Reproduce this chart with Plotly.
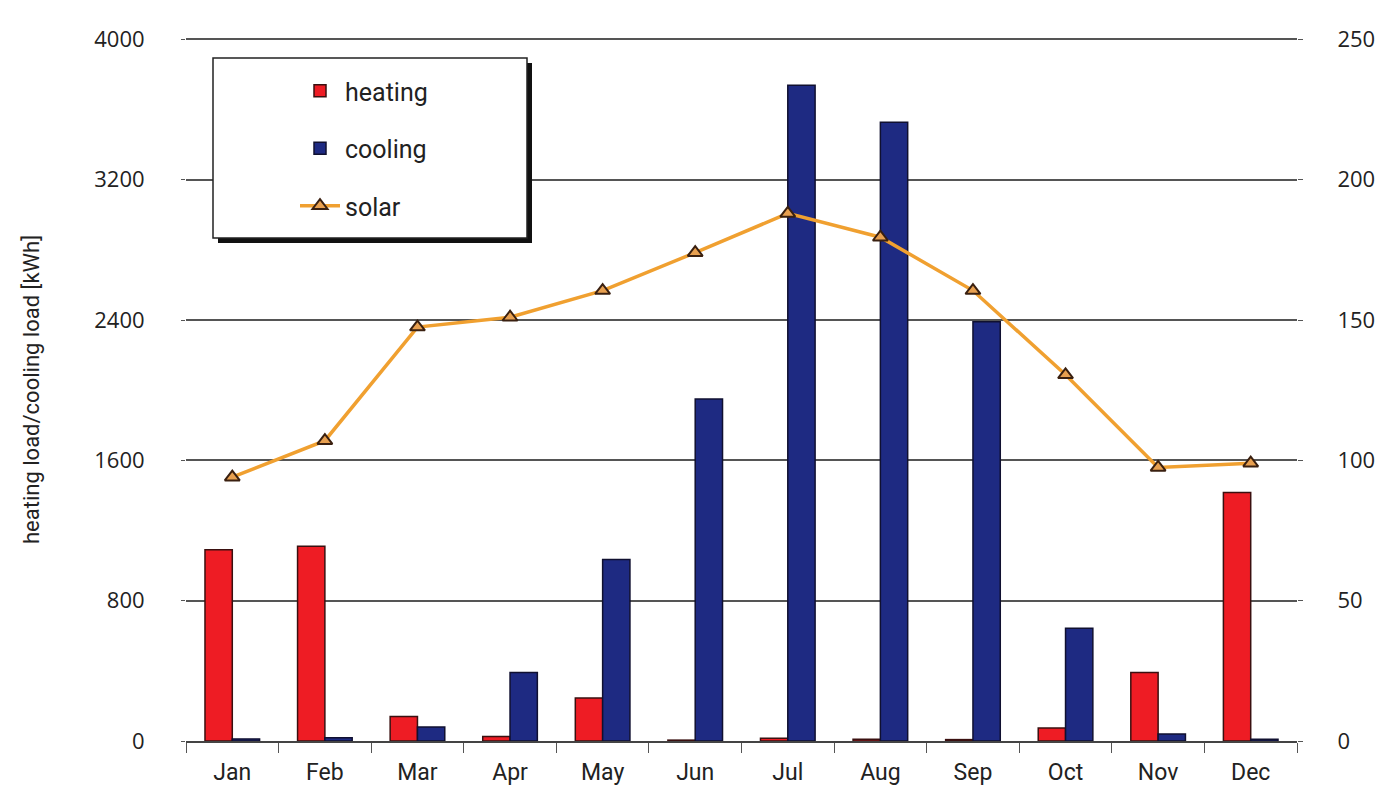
import plotly.graph_objects as go

months = ["Jan", "Feb", "Mar", "Apr", "May", "Jun", "Jul", "Aug", "Sep", "Oct", "Nov", "Dec"]
heating = [1090, 1110, 140, 25, 245, 5, 15, 10, 8, 74, 390, 1417]
cooling = [12, 18, 80, 390, 1035, 1950, 3738, 3528, 2390, 643, 40, 10]
solar = [94, 107, 147.5, 151, 160.5, 174, 188, 179.5, 160.5, 130.5, 97.5, 99]

left_ticks = [0, 800, 1600, 2400, 3200, 4000]
right_ticks = [0, 50, 100, 150, 200, 250]

narrow = "Liberation Sans Narrow, Roboto, sans-serif"
plain = "Open Sans, DejaVu Sans, sans-serif"

# page has an 8px body offset; plot area target (screen px): x 186..1297, y 38..741
OFF = 8
L, R, T, B = 186, 1297, 38, 741

fig = go.Figure()
fig.add_trace(go.Bar(x=months, y=heating, name="heating",
                     marker=dict(color="#EE1C24", line=dict(color="#3a1010", width=1.5)),
                     legendgroup="h"))
fig.add_trace(go.Bar(x=months, y=cooling, name="cooling",
                     marker=dict(color="#1E2A82", line=dict(color="#101030", width=1.5)),
                     legendgroup="c"))
fig.add_trace(go.Scatter(x=months, y=solar, name="solar", yaxis="y2", mode="lines+markers",
                         line=dict(color="#F0A030", width=3.5),
                         marker=dict(symbol="triangle-up", size=13, color="#E8A050",
                                     line=dict(color="#3a2010", width=2)),
                         legendgroup="s"))

pw, ph = R - L, B - T
def px(xp, yp):
    return (xp - L) / pw, (B - yp) / ph
x0, y0 = px(213, 58)
x1, y1 = px(527, 238)
dx, dy = 5 / pw, 5 / ph
fig.add_shape(type="rect", xref="paper", yref="paper", x0=x0 + dx, x1=x1 + dx, y0=y1 - dy, y1=y0 - dy,
              fillcolor="#111111", line=dict(width=0), layer="above")
fig.add_shape(type="rect", xref="paper", yref="paper", x0=x0, x1=x1, y0=y1, y1=y0,
              fillcolor="white", line=dict(color="#222222", width=1.5), layer="above")

lx, ly = px(295, 68)
top_pad = 1.002

fig.update_layout(
    width=1391, height=811,
    margin=dict(l=L - OFF, r=1391 - R + OFF, t=T - OFF, b=811 - B + OFF, autoexpand=False),
    paper_bgcolor="white", plot_bgcolor="white",
    barmode="group", bargap=0.41, bargroupgap=0,
    showlegend=True,
    legend=dict(x=lx, y=ly, xanchor="left", yanchor="top", bgcolor="rgba(0,0,0,0)",
                borderwidth=0, font=dict(family=narrow, size=25, color="#222"),
                tracegroupgap=22, itemwidth=40),
    xaxis=dict(type="category", range=[-0.5, 11.5], showgrid=False, showline=True,
               linecolor="#444", linewidth=1.5,
               ticks="outside", tickson="boundaries", ticklen=10, tickcolor="#555",
               ticklabelstandoff=10,
               tickfont=dict(family=narrow, size=23, color="#222")),
    yaxis=dict(range=[0, 4000 * top_pad], tickvals=left_ticks, showgrid=True, gridcolor="#555", gridwidth=1.5,
               zeroline=False, showline=False, ticks="outside", ticklen=4, tickcolor="#555",
               ticklabelstandoff=32,
               tickfont=dict(family=plain, size=22, color="#222"),
               title=dict(text="heating load/cooling load [kWh]",
                          font=dict(family=narrow, size=22, color="#222"), standoff=48)),
    yaxis2=dict(range=[0, 250 * top_pad], tickvals=right_ticks, overlaying="y", side="right", showgrid=False,
                zeroline=False, showline=False, ticks="outside", ticklen=5, tickcolor="#555",
                ticklabelstandoff=30,
                tickfont=dict(family=plain, size=22, color="#222")),
)

fig.write_html("out.html")
